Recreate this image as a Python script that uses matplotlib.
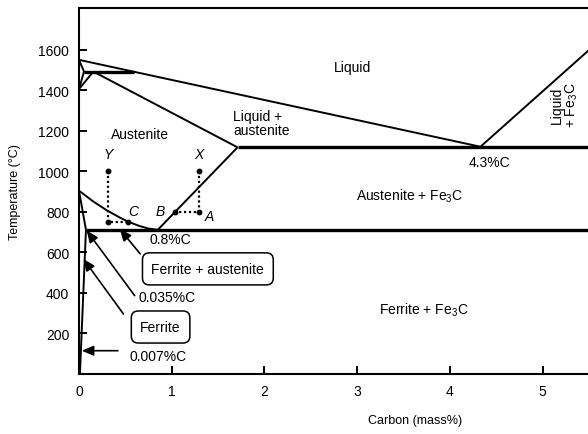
import matplotlib
matplotlib.use("Agg")
from matplotlib import pyplot as plt

plt.rcParams['font.family'] = ['Liberation Sans', 'DejaVu Sans']
plt.rcParams['mathtext.default'] = 'regular'

# phase boundaries (carbon mass%, temperature degC)
liquidus_x = [0.0, 4.33, 5.6]
liquidus_y = [1551, 1122, 1640]
delta_x = [0.0, 0.054, 0.0]
delta_y = [1551, 1493, 1407]
peritectic_x = [0.054, 0.59]
peritectic_y = [1493, 1493]
gamma_x = [0.0, 0.155]
gamma_y = [1407, 1493]
solidus_x = [0.155, 1.71]
solidus_y = [1493, 1119]
eutectic_x = [1.71, 5.6]
eutectic_y = [1122, 1122]
acm_x = [0.85, 1.71]
acm_y = [712, 1119]
a3_x = [0.0, 0.15, 0.3, 0.45, 0.53, 0.65, 0.75, 0.85]
a3_y = [905, 853, 808, 770, 752, 731, 718, 712]
eutectoid_x = [0.075, 5.6]
eutectoid_y = [712, 712]
ferrite_top_x = [0.0, 0.075]
ferrite_top_y = [905, 712]
ferrite_solvus_x = [0.075, 0.01]
ferrite_solvus_y = [712, 0]

# cooling paths
path_y_x = [0.31, 0.31, 0.53]
path_y_y = [1000, 752, 752]
path_x_x = [1.29, 1.29, 1.035]
path_x_y = [1000, 801, 801]

xticks = [0, 1, 2, 3, 4, 5]
yticks = [200, 400, 600, 800, 1000, 1200, 1400, 1600]

fig = plt.figure(figsize=(5.88, 4.35), dpi=100)
ax = fig.add_axes([79 / 588, 1 - 375 / 435, 1 - 79 / 588, (375 - 9) / 435])

lw = 1.4
for xs, ys in [(liquidus_x, liquidus_y), (delta_x, delta_y), (gamma_x, gamma_y),
               (solidus_x, solidus_y), (acm_x, acm_y), (a3_x, a3_y),
               (ferrite_top_x, ferrite_top_y), (ferrite_solvus_x, ferrite_solvus_y)]:
    ax.plot(xs, ys, color='black', lw=lw, solid_capstyle='butt')
for xs, ys in [(peritectic_x, peritectic_y), (eutectic_x, eutectic_y), (eutectoid_x, eutectoid_y)]:
    ax.plot(xs, ys, color='black', lw=2.4, solid_capstyle='butt')

for xs, ys in [(path_y_x, path_y_y), (path_x_x, path_x_y)]:
    ax.plot(xs, ys, color='black', lw=1.6, ls=(0, (1, 1.2)))
    ax.plot(xs, ys, 'o', color='black', ms=3.2, ls='none')

ax.set_xlim(0, 5.49)
ax.set_ylim(0, 1807)
ax.set_xticks(xticks)
ax.set_yticks(yticks)
ax.tick_params(direction='in', length=6, width=1.4, labelsize=10, pad=7, color='black')
for s in ['left', 'bottom', 'top']:
    ax.spines[s].set_linewidth(1.5)
ax.spines['right'].set_visible(False)

ax.set_xlabel('Carbon (mass%)', fontsize=9)
ax.xaxis.set_label_coords((415 - 79) / 509, -40 / 366)
ax.set_ylabel('Temperature (°C)', fontsize=9)
ax.yaxis.set_label_coords(-58 / 509, 0.5)

fs = 10
ax.text(2.95, 1516, 'Liquid', fontsize=fs, ha='center', va='center')
ax.text(0.66, 1185, 'Austenite', fontsize=fs, ha='center', va='center')
ax.text(1.66, 1238, 'Liquid +\naustenite', fontsize=fs, ha='left', va='center', linespacing=1.0)
ax.text(4.43, 1047, '4.3%C', fontsize=fs, ha='center', va='center')
ax.text(3.57, 884, 'Austenite + Fe$_3$C', fontsize=fs, ha='center', va='center')
ax.text(3.72, 321, 'Ferrite + Fe$_3$C', fontsize=fs, ha='center', va='center')
ax.text(5.24, 1333, 'Liquid\n+ Fe$_3$C', fontsize=fs, ha='center', va='center',
        rotation=90, linespacing=1.0)
ax.text(0.98, 667, '0.8%C', fontsize=fs, ha='center', va='center')
ax.text(0.64, 380, '0.035%C', fontsize=fs, ha='left', va='center')
ax.text(0.55, 89, '0.007%C', fontsize=fs, ha='left', va='center')

for lab, lx, ly in [('Y', 0.31, 1086), ('X', 1.29, 1086), ('C', 0.58, 805),
                    ('B', 0.88, 805), ('A', 1.41, 780)]:
    ax.text(lx, ly, lab, fontsize=fs, style='italic', ha='center', va='center')

box = dict(boxstyle='round,pad=0.65,rounding_size=0.5', fc='white', ec='black', lw=1.1)
ax.text(1.39, 519, 'Ferrite + austenite', fontsize=fs, ha='center', va='center', bbox=box)
ax.text(0.88, 232, 'Ferrite', fontsize=fs, ha='center', va='center', bbox=box)

arrow = dict(arrowstyle='-|>,head_length=0.7,head_width=0.3', color='black', lw=1.2,
             shrinkA=0, shrinkB=0)
ax.annotate('', xy=(0.44, 716), xytext=(0.66, 593), arrowprops=arrow)
ax.annotate('', xy=(0.083, 708), xytext=(0.6, 387), arrowprops=arrow)
ax.annotate('', xy=(0.047, 568), xytext=(0.48, 296), arrowprops=arrow)
ax.annotate('', xy=(0.03, 115), xytext=(0.42, 115), arrowprops=arrow)

fig.savefig('out.png', dpi=100)
